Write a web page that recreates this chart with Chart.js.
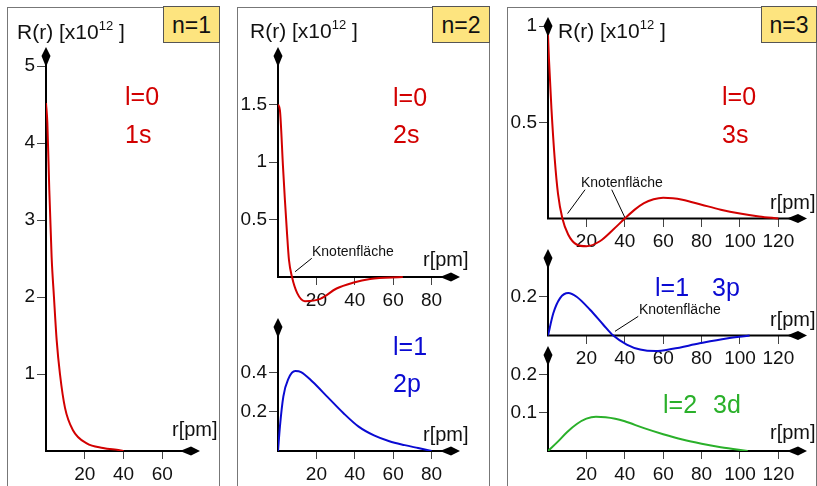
<!DOCTYPE html>
<html>
<head>
<meta charset="utf-8">
<script src="https://cdn.jsdelivr.net/npm/chart.js@4.4.1/dist/chart.umd.min.js"></script>
<style>
  body { margin: 0; width: 817px; height: 486px; overflow: hidden; background: #fff; position: relative;
         font-family: "Liberation Sans", Arial, sans-serif; color: #111; }
  .frame { position: absolute; top: 7px; height: 520px; border: 1px solid #777; box-sizing: border-box; }
  .nbox { position: absolute; top: 6px; height: 37px; background: #fde47f; border: 1px solid #555; box-sizing: border-box;
          font-size: 23px; line-height: 36px; text-align: center; }
  .lbl { position: absolute; white-space: nowrap; line-height: 1; }
  .lbl sup { font-size: 13px; line-height: 0; vertical-align: 9px; }
  canvas { position: absolute; }
</style>
</head>
<body>
<div class="frame" style="left:7px; width:213px"></div>
<div class="frame" style="left:237px; width:253px"></div>
<div class="frame" style="left:507px; width:310px"></div>
<div class="nbox" style="left:163px; width:57px">n=1</div>
<div class="nbox" style="left:432px; width:58px">n=2</div>
<div class="nbox" style="left:761px; width:56px">n=3</div>

<script>
// radius in pm, R(r) in units of 10^12
const r1s = [0, 0.7, 1.7, 2.9, 4.1, 5.5, 7.2, 9.8, 13.9, 21, 29.4, 38, 40];
const R1s = [4.52, 4.26, 3.39, 2.52, 2.0, 1.44, 1.0, 0.56, 0.27, 0.10, 0.04, 0.01, 0];

const r2s = [0, 1, 2.6, 3.6, 4.7, 5.7, 7.3, 10, 14, 22, 30.5, 39, 48, 65];
const R2s = [1.5, 1.45, 0.96, 0.67, 0.38, 0.15, 0, -0.14, -0.21, -0.19, -0.10, -0.05, -0.017, 0];

const r2p = [0, 1, 2.8, 5.4, 9, 12, 18, 26, 34, 42, 50, 58, 66, 73, 80];
const R2p = [0, 0.125, 0.28, 0.37, 0.41, 0.405, 0.355, 0.275, 0.195, 0.125, 0.08, 0.05, 0.03, 0.015, 0];

const r3s = [0, 0.5, 1.8, 3.5, 5.2, 7.5, 10.5, 14.9, 20, 27, 34, 40, 45, 50, 55, 60, 65, 70, 80, 90, 100, 110, 120];
const R3s = [0.955, 0.83, 0.57, 0.31, 0.13, 0, -0.083, -0.135, -0.144, -0.118, -0.057, 0, 0.045, 0.08, 0.1, 0.108, 0.106, 0.098, 0.072, 0.046, 0.026, 0.011, 0];

const r3p = [0, 2.8, 6.3, 10.6, 14.9, 21.9, 28.8, 34, 41, 48, 56, 65, 79, 93, 105];
const R3p = [0, 0.116, 0.193, 0.219, 0.2, 0.133, 0.056, 0, -0.046, -0.072, -0.08, -0.068, -0.04, -0.015, 0];

const r3d = [0, 5, 10, 15, 20, 25, 30, 35, 40, 50, 60, 70, 80, 90, 104];
const R3d = [0, 0.024, 0.05, 0.071, 0.085, 0.09, 0.089, 0.085, 0.078, 0.06, 0.044, 0.03, 0.019, 0.01, 0];

const xTicks1 = [20, 40, 60];
const xTicks2 = [20, 40, 60, 80];
const xTicks3 = [20, 40, 60, 80, 100, 120];
const yTicks1s = [1, 2, 3, 4, 5];
const yTicks2s = [0.5, 1, 1.5];
const yTicks2p = [0.2, 0.4];
const yTicks3s = [0.5, 1];
const yTicks3p = [0.2];
const yTicks3d = [0.1, 0.2];

const RED = '#d20000', BLUE = '#0a0ad2', GREEN = '#2ab02a';
const FONT = '"Liberation Sans", Arial, sans-serif';

// axis lines with arrow heads + "Knotenfläche" leader lines
function arrow(ctx, x, y, dx, dy) {
  const px = -dy, py = dx;
  ctx.beginPath();
  ctx.moveTo(x, y);
  ctx.lineTo(x - dx * 9 + px * 4.5, y - dy * 9 + py * 4.5);
  ctx.lineTo(x - dx * 20, y - dy * 20);
  ctx.lineTo(x - dx * 9 - px * 4.5, y - dy * 9 - py * 4.5);
  ctx.closePath();
  ctx.fill();
}
const axesArrows = {
  id: 'axesArrows',
  beforeDatasetsDraw(chart, args, opts) {
    const {ctx, chartArea: a, scales: {x, y}} = chart;
    const x0 = x.getPixelForValue(0), y0 = y.getPixelForValue(0);
    ctx.save();
    ctx.strokeStyle = '#000';
    ctx.fillStyle = '#000';
    ctx.lineWidth = 2;
    ctx.beginPath();
    ctx.moveTo(x0, y0); ctx.lineTo(a.right - 12, y0);
    ctx.moveTo(x0, y0 + 1); ctx.lineTo(x0, a.top + 12);
    ctx.stroke();
    arrow(ctx, a.right, y0, 1, 0);
    arrow(ctx, x0, a.top, 0, -1);
    ctx.lineWidth = 1;
    ctx.beginPath();
    (opts.leaders || []).forEach(l => {
      ctx.moveTo(x.getPixelForValue(l[0]), y.getPixelForValue(l[1]));
      ctx.lineTo(x.getPixelForValue(l[2]), y.getPixelForValue(l[3]));
    });
    ctx.stroke();
    ctx.restore();
  }
};

const fmt = v => String(Math.round(v * 100) / 100);
const PAD = {left: 10, top: 20, right: 20, bottom: 40};
const YW = 50;

// area = chart area in page pixels (left, top, right, bottom)
function plot(area, rs, vals, color, xTicks, yTicks, xMax, yMin, yMax, leaders) {
  const cv = document.createElement('canvas');
  const w = area[2] - area[0] + PAD.left + YW + PAD.right;
  const h = area[3] - area[1] + PAD.top + PAD.bottom;
  cv.width = w; cv.height = h;
  cv.style.left = (area[0] - PAD.left - YW) + 'px';
  cv.style.top = (area[1] - PAD.top) + 'px';
  document.body.appendChild(cv);
  const tickFont = {family: FONT, size: 19};
  new Chart(cv, {
    type: 'line',
    data: {
      datasets: [{
        data: rs.map((r, i) => ({x: r, y: vals[i]})),
        borderColor: color,
        borderWidth: 2,
        pointRadius: 0,
        cubicInterpolationMode: 'monotone',
        fill: false
      }]
    },
    options: {
      responsive: false,
      animation: false,
      layout: {padding: PAD},
      plugins: {legend: {display: false}, tooltip: {enabled: false}, axesArrows: {leaders: leaders}},
      scales: {
        x: {
          type: 'linear', min: 0, max: xMax, position: {y: 0},
          afterBuildTicks: s => { s.ticks = xTicks.map(v => ({value: v})); },
          grid: {drawOnChartArea: false, tickLength: 8, color: '#444'},
          border: {display: false},
          ticks: {font: tickFont, color: '#111', padding: 4, maxRotation: 0, autoSkip: false, callback: fmt}
        },
        y: {
          type: 'linear', min: yMin, max: yMax, position: 'left',
          afterFit: s => { s.width = YW; },
          afterBuildTicks: s => { s.ticks = yTicks.map(v => ({value: v})); },
          grid: {drawOnChartArea: false, tickLength: 9, color: '#444'},
          border: {display: false},
          ticks: {font: tickFont, color: '#111', padding: 2, autoSkip: false, callback: fmt}
        }
      }
    },
    plugins: [axesArrows]
  });
}

plot([46, 47, 200, 451], r1s, R1s, RED, xTicks1, yTicks1s, 79.4, 0, 5.247);
plot([278, 47, 460, 306], r2s, R2s, RED, xTicks2, yTicks2s, 94.8, -0.252, 2.0, [[17.6, 0.163, 8.9, 0.046]]);
plot([278, 318, 460, 451], r2p, R2p, BLUE, xTicks2, yTicks2p, 94.8, 0, 0.682);
plot([548, 17, 807, 257.5], r3s, R3s, RED, xTicks3, yTicks3s, 134.9, -0.2, 1.048,
     [[19.3, 0.15, 10.2, 0.026], [33.2, 0.15, 40.1, 0.004]]);
plot([548, 249, 807, 355.5], r3p, R3p, BLUE, xTicks3, yTicks3p, 134.9, -0.1, 0.446, [[47, 0.099, 34.9, 0.022]]);
plot([548, 346, 807, 451], r3d, R3d, GREEN, xTicks3, yTicks3d, 134.9, 0, 0.276);

// text labels: [html, left, baseline, size, colour]
const labels = [
  ['R(r) [x10<sup>12</sup> ]', 17, 39, 21, '#111'],
  ['l=0', 125, 105, 25, RED], ['1s', 125, 143, 25, RED],
  ['r[pm]', 172, 436, 20, '#111'],
  ['R(r) [x10<sup>12</sup> ]', 250, 38, 21, '#111'],
  ['l=0', 393, 106, 25, RED], ['2s', 393, 143, 25, RED],
  ['Knotenfläche', 312, 256, 14, '#111'],
  ['r[pm]', 423, 266, 20, '#111'],
  ['l=1', 393, 355, 25, BLUE], ['2p', 393, 392, 25, BLUE],
  ['r[pm]', 423, 441, 20, '#111'],
  ['R(r) [x10<sup>12</sup> ]', 558, 38, 21, '#111'],
  ['l=0', 722, 105, 25, RED], ['3s', 722, 143, 25, RED],
  ['Knotenfläche', 581, 187, 14, '#111'],
  ['r[pm]', 770, 209, 20, '#111'],
  ['l=1', 655, 296, 25, BLUE], ['3p', 712, 296, 25, BLUE],
  ['Knotenfläche', 639, 314, 14, '#111'],
  ['r[pm]', 770, 326, 20, '#111'],
  ['l=2', 663, 413, 25, GREEN], ['3d', 713, 413, 25, GREEN],
  ['r[pm]', 770, 439, 20, '#111']
];
labels.forEach(([html, left, base, size, color]) => {
  const d = document.createElement('div');
  d.className = 'lbl';
  d.innerHTML = html;
  d.style.left = left + 'px';
  d.style.top = (base - 0.8465 * size) + 'px';
  d.style.fontSize = size + 'px';
  d.style.color = color;
  document.body.appendChild(d);
});
</script>
</body>
</html>
